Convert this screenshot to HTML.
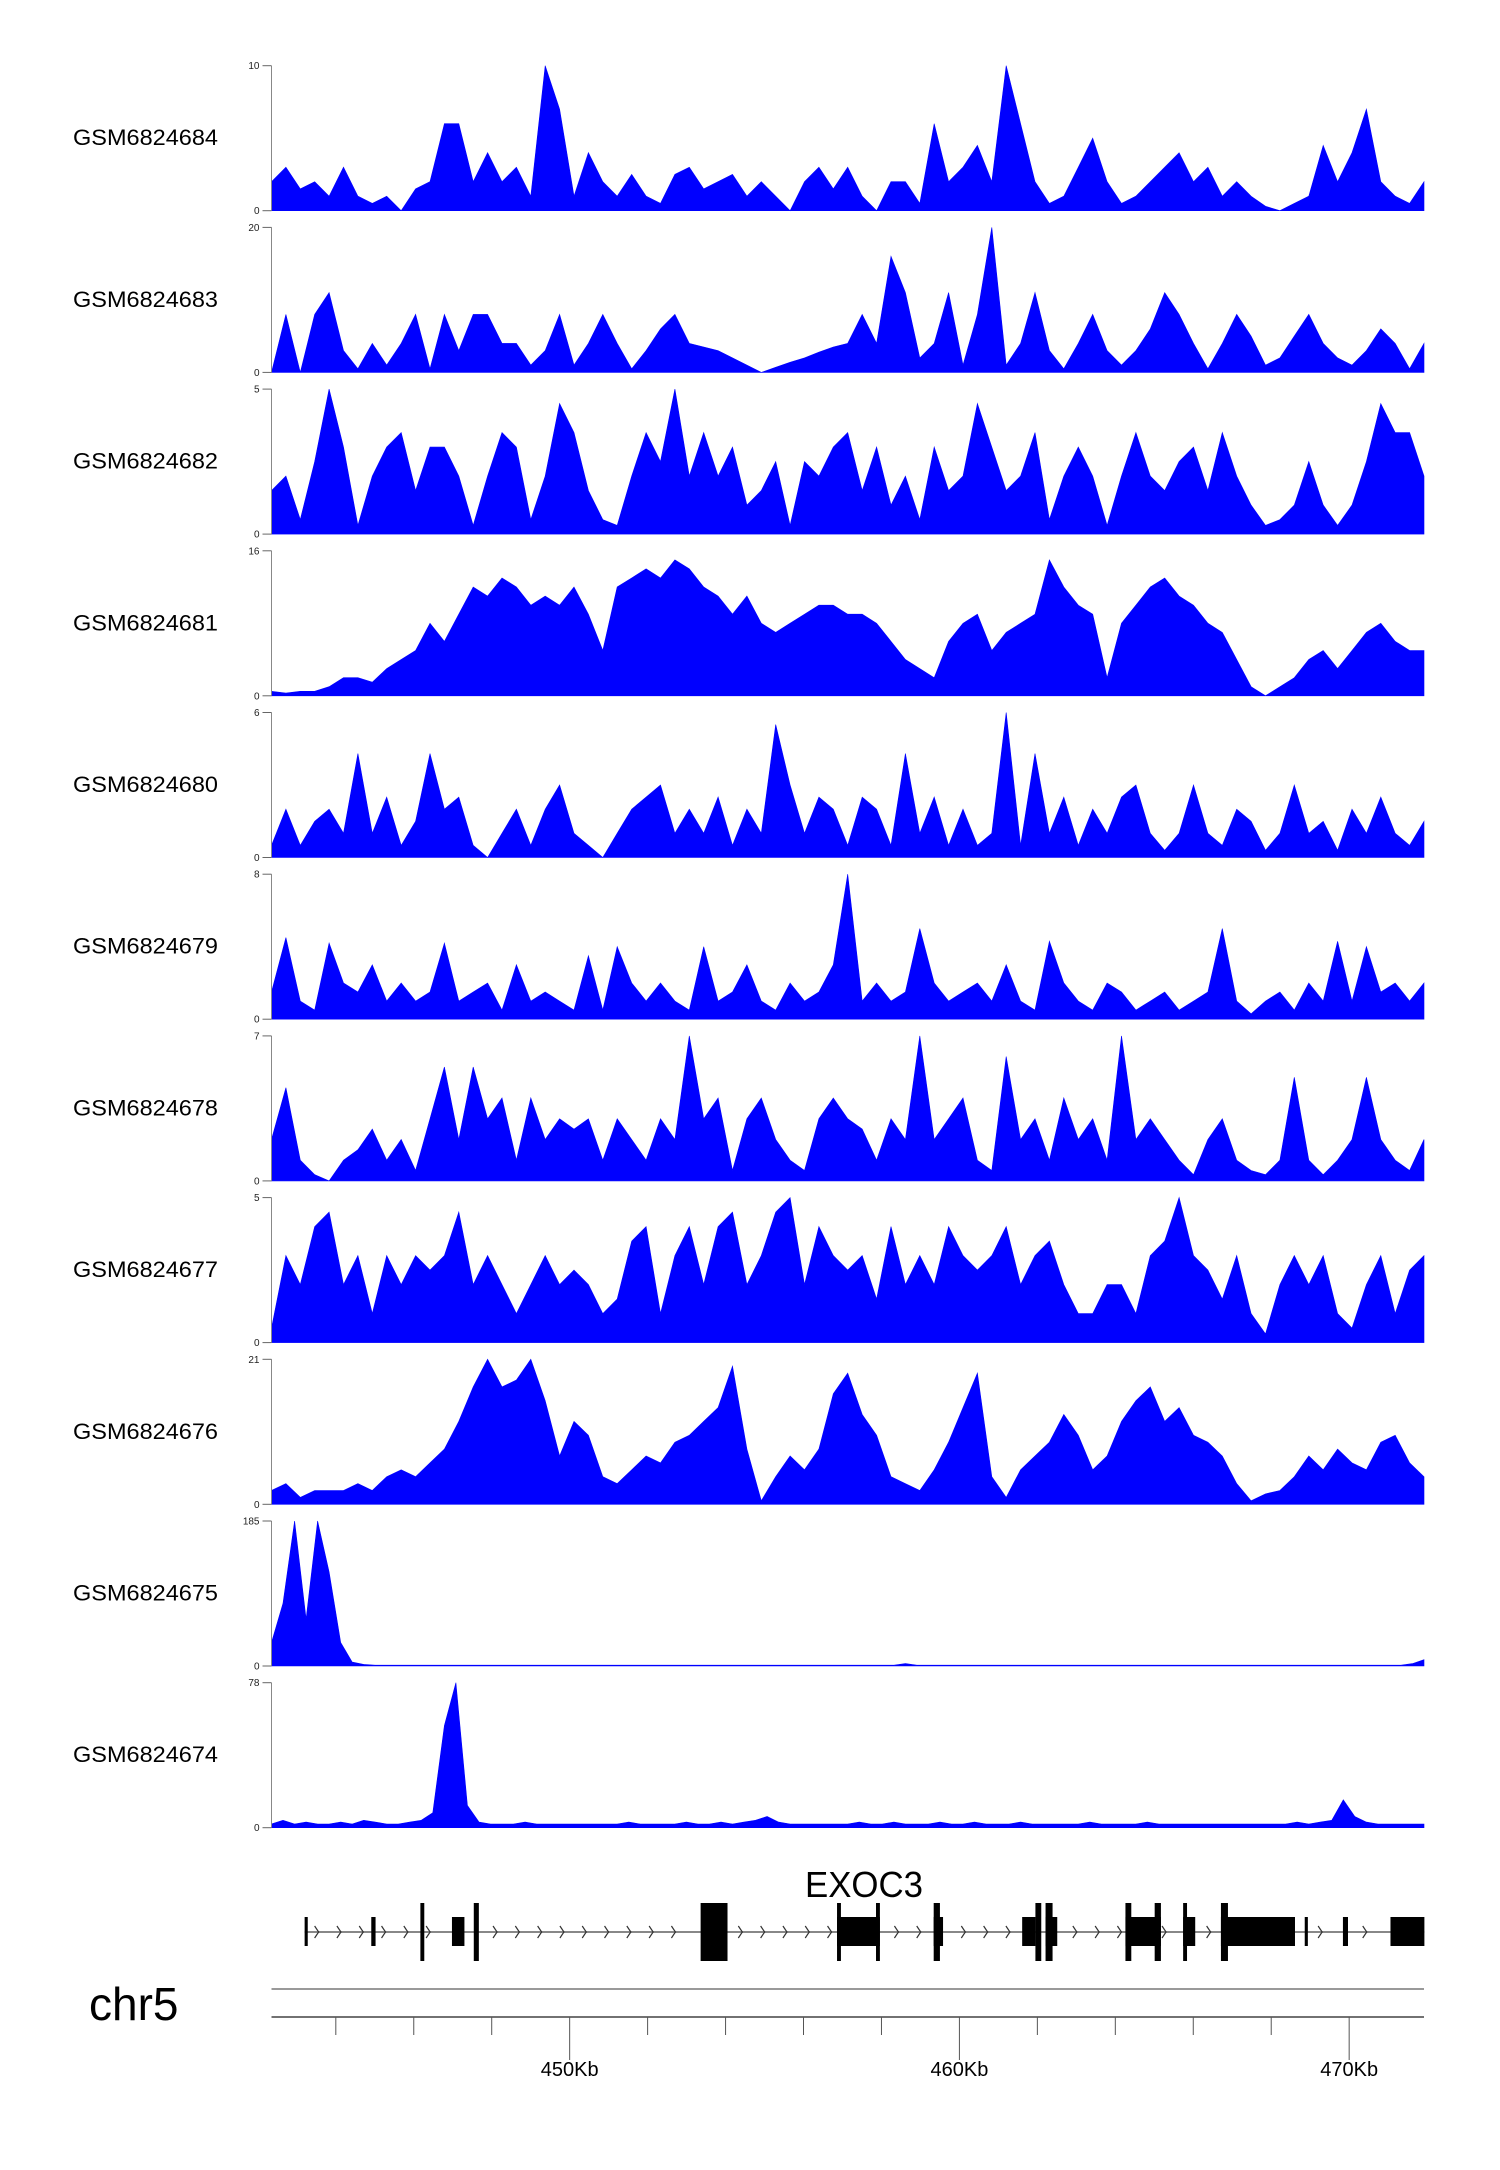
<!DOCTYPE html>
<html><head><meta charset="utf-8"><style>
html,body{margin:0;padding:0;background:#fff;}
svg{display:block;font-family:"Liberation Sans",sans-serif;}
</style></head><body>
<svg id="chart" width="1500" height="2170" viewBox="0 0 1500 2170" xmlns="http://www.w3.org/2000/svg">
<g id="tracks"></g>
<g id="gene"></g>
<g id="axis"></g>
</svg>
<script>
const sampleNames = ["GSM6824684","GSM6824683","GSM6824682","GSM6824681","GSM6824680","GSM6824679","GSM6824678","GSM6824677","GSM6824676","GSM6824675","GSM6824674"];
const yMax = [10,20,5,16,6,8,7,5,21,185,78];
const s684 = [2,3,1.5,2,1,3,1,0.5,1,0,1.5,2,6,6,2,4,2,3,1,10,7,1,4,2,1,2.5,1,0.5,2.5,3,1.5,2,2.5,1,2,1,0,2,3,1.5,3,1,0,2,2,0.5,6,2,3,4.5,2,10,6,2,0.5,1,3,5,2,0.5,1,2,3,4,2,3,1,2,1,0.3,0,0.5,1,4.5,2,4,7,2,1,0.5,2];
const s683 = [0,8,0,8,11,3,0.5,4,1,4,8,0.5,8,3,8,8,4,4,1,3,8,1,4,8,4,0.5,3,6,8,4,3.5,3,2,1,0,0.7,1.4,2,2.8,3.5,4,8,4,16,11,2,4,11,1,8,20,1,4,11,3,0.5,4,8,3,1,3,6,11,8,4,0.5,4,8,5,1,2,5,8,4,2,1,3,6,4,0.5,4];
const s682 = [1.5,2,0.5,2.5,5,3,0.3,2,3,3.5,1.5,3,3,2,0.3,2,3.5,3,0.5,2,4.5,3.5,1.5,0.5,0.3,2,3.5,2.5,5,2,3.5,2,3,1,1.5,2.5,0.3,2.5,2,3,3.5,1.5,3,1,2,0.5,3,1.5,2,4.5,3,1.5,2,3.5,0.5,2,3,2,0.3,2,3.5,2,1.5,2.5,3,1.5,3.5,2,1,0.3,0.5,1,2.5,1,0.3,1,2.5,4.5,3.5,3.5,2];
const s681 = [0.5,0.3,0.5,0.5,1,2,2,1.5,3,4,5,8,6,9,12,11,13,12,10,11,10,12,9,5,12,13,14,13,15,14,12,11,9,11,8,7,8,9,10,10,9,9,8,6,4,3,2,6,8,9,5,7,8,9,15,12,10,9,2,8,10,12,13,11,10,8,7,4,1,0,1,2,4,5,3,5,7,8,6,5,5];
const s680 = [0.5,2,0.5,1.5,2,1,4.3,1,2.5,0.5,1.5,4.3,2,2.5,0.5,0,1,2,0.5,2,3,1,0.5,0,1,2,2.5,3,1,2,1,2.5,0.5,2,1,5.5,3,1,2.5,2,0.5,2.5,2,0.5,4.3,1,2.5,0.5,2,0.5,1,6,0.5,4.3,1,2.5,0.5,2,1,2.5,3,1,0.3,1,3,1,0.5,2,1.5,0.3,1,3,1,1.5,0.3,2,1,2.5,1,0.5,1.5];
const s679 = [1.5,4.5,1,0.5,4.2,2,1.5,3,1,2,1,1.5,4.2,1,1.5,2,0.5,3,1,1.5,1,0.5,3.5,0.5,4,2,1,2,1,0.5,4,1,1.5,3,1,0.5,2,1,1.5,3,8,1,2,1,1.5,5,2,1,1.5,2,1,3,1,0.5,4.3,2,1,0.5,2,1.5,0.5,1,1.5,0.5,1,1.5,5,1,0.3,1,1.5,0.5,2,1,4.3,1,4,1.5,2,1,2];
const s678 = [2,4.5,1,0.3,0,1,1.5,2.5,1,2,0.5,3,5.5,2,5.5,3,4,1,4,2,3,2.5,3,1,3,2,1,3,2,7,3,4,0.5,3,4,2,1,0.5,3,4,3,2.5,1,3,2,7,2,3,4,1,0.5,6,2,3,1,4,2,3,1,7,2,3,2,1,0.3,2,3,1,0.5,0.3,1,5,1,0.3,1,2,5,2,1,0.5,2];
const s677 = [0.5,3,2,4,4.5,2,3,1,3,2,3,2.5,3,4.5,2,3,2,1,2,3,2,2.5,2,1,1.5,3.5,4,1,3,4,2,4,4.5,2,3,4.5,5,2,4,3,2.5,3,1.5,4,2,3,2,4,3,2.5,3,4,2,3,3.5,2,1,1,2,2,1,3,3.5,5,3,2.5,1.5,3,1,0.3,2,3,2,3,1,0.5,2,3,1,2.5,3];
const s676 = [2,3,1,2,2,2,3,2,4,5,4,6,8,12,17,21,17,18,21,15,7,12,10,4,3,5,7,6,9,10,12,14,20,8,0.5,4,7,5,8,16,19,13,10,4,3,2,5,9,14,19,4,1,5,7,9,13,10,5,7,12,15,17,12,14,10,9,7,3,0.5,1.5,2,4,7,5,8,6,5,9,10,6,4];
const s675 = [30,80,185,60,185,120,30,5,2,1,1,1,1,1,1,1,1,1,1,1,1,1,1,1,1,1,1,1,1,1,1,1,1,1,1,1,1,1,1,1,1,1,1,1,1,1,1,1,1,1,1,1,1,1,1,3,1,1,1,1,1,1,1,1,1,1,1,1,1,1,1,1,1,1,1,1,1,1,1,1,1,1,1,1,1,1,1,1,1,1,1,1,1,1,1,1,1,1,1,3,8];
const s674 = [2,4,2,3,2,2,3,2,4,3,2,2,3,4,8,55,78,12,3,2,2,2,3,2,2,2,2,2,2,2,2,3,2,2,2,2,3,2,2,3,2,3,4,6,3,2,2,2,2,2,2,3,2,2,3,2,2,2,3,2,2,3,2,2,2,3,2,2,2,2,2,3,2,2,2,2,3,2,2,2,2,2,2,2,2,2,2,2,2,3,2,3,4,15,6,3,2,2,2,2,2];
const seriesValues = [s684,s683,s682,s681,s680,s679,s678,s677,s676,s675,s674];
const startKb = 442.35, endKb = 471.92;
const tickKb = [444,446,448,450,452,454,456,458,460,462,464,466,468,470];
const majorLabels = ["450Kb","460Kb","470Kb"];
const majorKb = [450,460,470];
const geneName = "EXOC3";
const geneStart = 443.20, geneEnd = 471.93;
const exonStarts = [443.20,444.91,446.17,446.98,447.54,453.36,456.86,456.86,457.86,459.34,459.34,461.61,461.95,462.21,462.21,464.26,464.26,465.01,465.74,465.74,466.71,466.71,468.86,469.84,471.06];
const exonEnds   = [443.28,445.02,446.27,447.30,447.67,454.05,457.96,456.96,457.96,459.50,459.58,461.95,462.10,462.39,462.51,465.17,464.41,465.17,465.84,466.05,468.61,466.89,468.94,469.97,471.93];
const exonTall   = [0,0,1,0,1,1,0,1,1,1,0,0,1,1,0,0,1,1,1,0,0,1,0,0,0];

const NS="http://www.w3.org/2000/svg";
function mk(tag, attrs, parent){const e=document.createElementNS(NS,tag);for(const k in attrs)e.setAttribute(k,attrs[k]);parent.appendChild(e);return e;}
const X0=271.5, X1=1424;
function xScale(kb){return X0+(kb-startKb)/(endKb-startKb)*(X1-X0);}
const trackTop0=65.7, trackBase0=210.7, pitch=161.7;

const tg=document.getElementById('tracks');
sampleNames.forEach((name,k)=>{
  const top=trackTop0+k*pitch, base=trackBase0+k*pitch, h=base-top;
  const g=mk('g',{},tg);
  
  
  const yS=v=>base-v/yMax[k]*h;
  const vals=seriesValues[k], n=vals.length;
  let d='M'+xScale(startKb).toFixed(1)+' '+base;
  vals.forEach((v,i)=>{const kb=startKb+i*(endKb-startKb)/(n-1);d+=' L'+xScale(kb).toFixed(1)+' '+yS(v).toFixed(1);});
  d+=' L'+xScale(endKb).toFixed(1)+' '+base+' Z';
  const p=mk('path',{d:d,fill:'#0000ff',stroke:'#0000ff','stroke-width':'0.6'},g);
  
  
  const ax=mk('line',{x1:X0,x2:X0,y1:top,y2:base,stroke:'#888','stroke-width':'1'},g);
  
  
  [[yMax[k],top],[0,base]].forEach(([lab,y])=>{
    mk('line',{x1:X0-9,x2:X0,y1:y,y2:y,stroke:'#666','stroke-width':'1'},g);
    const t=mk('text',{x:X0-12,y:y+3.5,'font-size':'10','text-anchor':'end',fill:'#222'},g);
    t.textContent=lab;
    
    
  });
  const lt=mk('text',{x:73,y:(top+base)/2+7,'font-size':'22',fill:'#000',textLength:'145',lengthAdjust:'spacingAndGlyphs'},g);
  lt.textContent=name;
  
  
});

const gg=document.getElementById('gene');
const gy=1932;
const gt=mk('text',{x:864,y:1897,'font-size':'36','text-anchor':'middle',fill:'#000',textLength:'118',lengthAdjust:'spacingAndGlyphs'},gg);
gt.textContent=geneName;


const gl=mk('line',{x1:xScale(geneStart),x2:xScale(geneEnd),y1:gy,y2:gy,stroke:'#888','stroke-width':'2'},gg);


function inExon(x){for(let i=0;i<exonStarts.length;i++){if(x>xScale(exonStarts[i])-6&&x<xScale(exonEnds[i])+3)return true;}return false;}
for(let x=xScale(geneStart)+12;x<xScale(geneEnd)-4;x+=22.3){
  if(inExon(x))continue;
  const c=mk('path',{d:`M${x-2} ${gy-6} L${x+2} ${gy} L${x-2} ${gy+6}`,fill:'none',stroke:'#333','stroke-width':'1.2'},gg);
  
  
}
exonStarts.forEach((s,i)=>{
  const x=xScale(s), w=Math.max(3,xScale(exonEnds[i])-x);
  const tall=exonTall[i];
  const y=tall?1903:1917, hh=tall?58:29;
  const r=mk('rect',{x:x,y:y,width:w,height:hh,fill:'#000'},gg);
  
  
});

const ag=document.getElementById('axis');
const chr=mk('text',{x:89,y:2020,'font-size':'46',fill:'#000'},ag);
chr.textContent='chr5';


const gl2=mk('line',{x1:X0,x2:X1,y1:1989,y2:1989,stroke:'#999','stroke-width':'2'},ag);


const al=mk('line',{x1:X0,x2:X1,y1:2017,y2:2017,stroke:'#444','stroke-width':'1.5'},ag);


tickKb.forEach(kb=>{
  const x=xScale(kb);
  const major=majorKb.indexOf(kb)>=0;
  const tk=mk('line',{x1:x,x2:x,y1:2017,y2:major?2060:2035,stroke:'#555','stroke-width':'1'},ag);
  
  
});
majorKb.forEach((kb,i)=>{
  const t=mk('text',{x:xScale(kb),y:2076,'font-size':'20','text-anchor':'middle',fill:'#000'},ag);
  t.textContent=majorLabels[i];
  
  
});
</script>
</body></html>
